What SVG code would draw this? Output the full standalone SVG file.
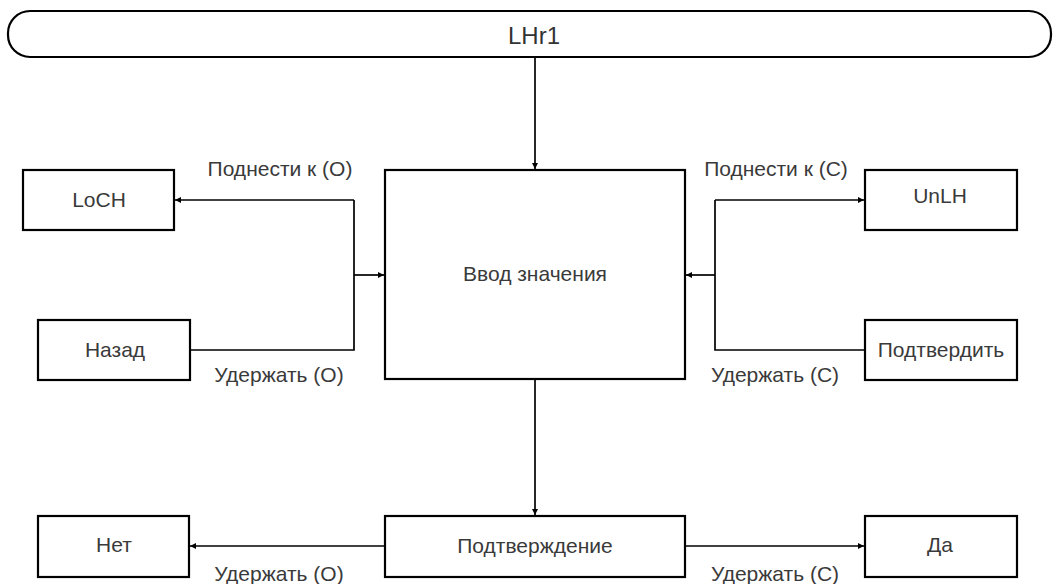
<svg xmlns="http://www.w3.org/2000/svg" width="1056" height="584" viewBox="0 0 1056 584">
  <style>
    .box { fill: #ffffff; stroke: #000000; stroke-width: 2.2; }
    .lbl { font-family: "Liberation Sans", Arial, sans-serif; font-size: 21px; fill: #3a3a3a; text-anchor: middle; }
    .title { font-family: "Liberation Sans", Arial, sans-serif; font-size: 24px; fill: #333333; text-anchor: middle; }
    .conn { fill: none; stroke: #000000; stroke-width: 1.7; }
  </style>
  <defs>
    <marker id="arr" markerUnits="userSpaceOnUse" markerWidth="7" markerHeight="6" refX="6" refY="3" orient="auto">
      <path d="M0,0 L6,3 L0,6 z" fill="#000000"/>
    </marker>
  </defs>
  <rect width="1056" height="584" fill="#ffffff"/>

  <g id="connectors">
    <path class="conn" d="M535,57 V169" marker-end="url(#arr)"/>
    <path class="conn" d="M354,200 H175" marker-end="url(#arr)"/>
    <path class="conn" d="M190,350 H354 V200"/>
    <path class="conn" d="M354,275 H384" marker-end="url(#arr)"/>
    <path class="conn" d="M715,200 H864" marker-end="url(#arr)"/>
    <path class="conn" d="M865,350 H715 V200"/>
    <path class="conn" d="M715,275 H686" marker-end="url(#arr)"/>
    <path class="conn" d="M535,379 V515" marker-end="url(#arr)"/>
    <path class="conn" d="M385,546 H190" marker-end="url(#arr)"/>
    <path class="conn" d="M685,546 H864" marker-end="url(#arr)"/>
    <text class="lbl" x="280" y="176">Поднести к (О)</text>
    <text class="lbl" x="279" y="382">Удержать (О)</text>
    <text class="lbl" x="776" y="176">Поднести к (С)</text>
    <text class="lbl" x="775" y="382">Удержать (С)</text>
    <text class="lbl" x="279" y="581">Удержать (О)</text>
    <text class="lbl" x="775" y="581">Удержать (С)</text>
  </g>

  <g id="lhr1">
    <rect class="box" x="8" y="11" width="1043" height="46" rx="22" ry="22"/>
    <text class="title" x="534" y="44">LHr1</text>
  </g>
  <g id="vvod">
    <rect class="box" x="385" y="170" width="300" height="209"/>
    <text class="lbl" x="535" y="281">Ввод значения</text>
  </g>
  <g id="loch">
    <rect class="box" x="23" y="170" width="151" height="60"/>
    <text class="lbl" x="99" y="207">LoCH</text>
  </g>
  <g id="nazad">
    <rect class="box" x="38" y="320" width="152" height="60"/>
    <text class="lbl" x="115" y="357">Назад</text>
  </g>
  <g id="unlh">
    <rect class="box" x="865" y="170" width="152" height="60"/>
    <text class="lbl" x="940" y="203">UnLH</text>
  </g>
  <g id="podtverdit">
    <rect class="box" x="865" y="320" width="152" height="60"/>
    <text class="lbl" x="941" y="357">Подтвердить</text>
  </g>
  <g id="podtverzhdenie">
    <rect class="box" x="385" y="516" width="300" height="61"/>
    <text class="lbl" x="535" y="553">Подтверждение</text>
  </g>
  <g id="net">
    <rect class="box" x="38" y="516" width="151" height="61"/>
    <text class="lbl" x="114" y="552">Нет</text>
  </g>
  <g id="da">
    <rect class="box" x="865" y="516" width="152" height="61"/>
    <text class="lbl" x="940" y="552">Да</text>
  </g>
</svg>
